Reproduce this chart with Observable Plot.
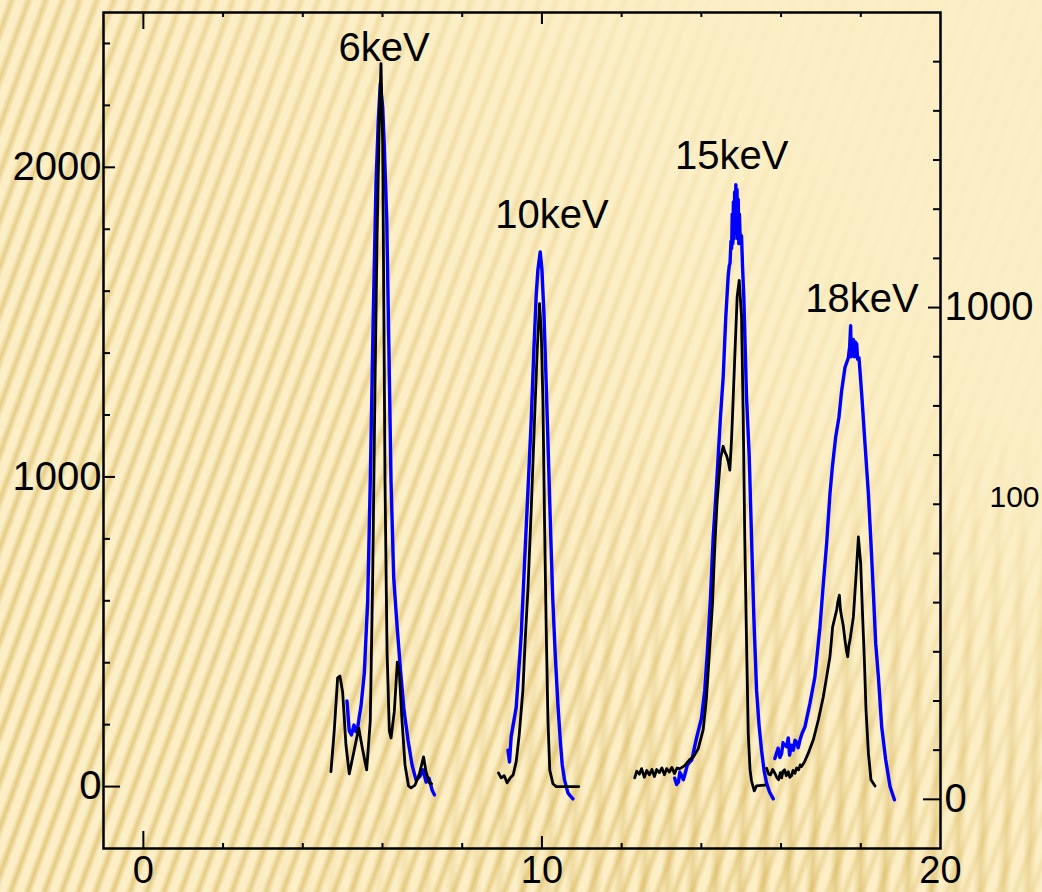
<!DOCTYPE html>
<html>
<head>
<meta charset="utf-8">
<script src="https://cdn.jsdelivr.net/npm/d3@7"></script>
<script src="https://cdn.jsdelivr.net/npm/@observablehq/plot@0.6"></script>
<style>
  html, body { margin: 0; padding: 0; }
  body { width: 1042px; height: 892px; overflow: hidden; position: relative; background: #FCEFC6; }
  #bgA { position: absolute; left: 0; top: 0; width: 1042px; height: 892px;
    background: repeating-linear-gradient(110deg, rgba(212,175,80,0) 0px, rgba(212,175,80,0) 6px, rgba(212,175,80,0.6) 11px, rgba(212,175,80,0) 16px);
    -webkit-mask-image: linear-gradient(55deg, #000 0%, rgba(0,0,0,0.8) 40%, rgba(0,0,0,0.05) 80%);
    mask-image: linear-gradient(55deg, #000 0%, rgba(0,0,0,0.8) 40%, rgba(0,0,0,0.05) 80%); }
  #bgB { position: absolute; left: 0; top: 0; width: 1042px; height: 892px;
    background: repeating-linear-gradient(93deg, rgba(212,175,80,0) 0px, rgba(212,175,80,0) 10px, rgba(212,175,80,0.55) 17px, rgba(212,175,80,0) 24px);
    -webkit-mask-image: radial-gradient(ellipse 60% 55% at 80% 100%, #000 0%, rgba(0,0,0,0.5) 50%, rgba(0,0,0,0) 100%);
    mask-image: radial-gradient(ellipse 60% 55% at 80% 100%, #000 0%, rgba(0,0,0,0.5) 50%, rgba(0,0,0,0) 100%); }
  #chart { position: absolute; left: 0; top: 0; }
</style>
</head>
<body>
<div id="bgA"></div>
<div id="bgB"></div>
<div id="chart"></div>
<script>
// ---- axes ----
const xDomain = [-1, 20];
const leftDomain = [-200, 2500];   // black spectra (left axis)
const rightDomain = [-100, 1600];  // blue spectra (right axis)

const xTickLabels = [0, 10, 20];
const xMajorTicks = [10];
const xMinorTicks = [2, 4, 6, 8, 12, 14, 16, 18];
const yLeftLabels = [0, 1000, 2000];
const yLeftMajorTicks = [1000, 2000];
const yLeftMinorTicks = [200, 400, 600, 800, 1200, 1400, 1600, 1800, 2200, 2400];
const yRightLabels = [0, 1000];
const yRightMajorTicks = [1000];
const yRightMinorTicks = [100, 200, 300, 400, 500, 600, 700, 800, 900, 1100, 1200, 1300, 1400, 1500];

// ---- peak labels ----
const peakLabels = ["6keV", "10keV", "15keV", "18keV"];
const peakLabelX = [6.04, 10.25, 14.76, 18.03];
const peakLabelY = [2385, 1847, 2036, 1575];

// ---- black spectra (left axis), [x, counts] ----
const black6keV = [[4.706,48],[4.789,180],[4.874,351],[4.932,357],[5.0,305],[5.083,135],[5.166,41],[5.291,118],[5.404,189],[5.503,118],[5.603,54],[5.693,212],[5.754,676],[5.812,1296],[5.862,1760],[5.920,2148],[5.962,2335],[6.005,2071],[6.030,1605],[6.063,986],[6.113,444],[6.171,180],[6.214,157],[6.296,242],[6.372,402],[6.422,367],[6.490,212],[6.565,70],[6.653,2],[6.716,-4],[6.817,5],[6.925,41],[7.030,96],[7.093,47],[7.176,12],[7.231,9]];
const black10keV = [[8.910,44],[8.977,28],[9.053,35],[9.128,12],[9.203,28],[9.279,38],[9.354,80],[9.430,167],[9.523,312],[9.580,473],[9.648,635],[9.731,893],[9.814,1183],[9.882,1409],[9.940,1560],[9.982,1473],[10.025,1247],[10.065,861],[10.108,506],[10.151,215],[10.196,54],[10.276,9],[10.359,0],[10.925,0]];
const black15keV = [[12.327,28],[12.38,50],[12.445,40],[12.50,58],[12.570,30],[12.63,52],[12.696,38],[12.76,55],[12.822,32],[12.88,55],[12.947,45],[13.01,60],[13.073,38],[13.13,58],[13.198,47],[13.26,62],[13.324,42],[13.39,60],[13.450,57],[13.575,67],[13.701,86],[13.802,96],[13.920,122],[14.045,183],[14.128,286],[14.211,450],[14.279,590],[14.337,775],[14.397,925],[14.480,1060],[14.548,1099],[14.593,1080],[14.631,1070],[14.681,1047],[14.714,1022],[14.756,1118],[14.781,1196],[14.839,1389],[14.899,1583],[14.950,1635],[15.008,1518],[15.050,1196],[15.090,796],[15.133,473],[15.176,173],[15.221,54],[15.259,18],[15.327,-14],[15.385,2],[15.593,5]];
const black18keV = [[15.636,59],[15.69,40],[15.736,38],[15.79,55],[15.844,43],[15.89,30],[15.937,22],[15.98,45],[16.013,28],[16.05,50],[16.088,54],[16.13,35],[16.181,48],[16.22,30],[16.264,35],[16.30,52],[16.347,43],[16.39,60],[16.440,54],[16.48,70],[16.515,65],[16.590,80],[16.683,108],[16.809,151],[16.935,215],[17.060,290],[17.143,355],[17.226,419],[17.294,516],[17.394,570],[17.43,600],[17.462,618],[17.49,570],[17.520,548],[17.56,520],[17.603,473],[17.64,440],[17.671,419],[17.70,455],[17.729,473],[17.814,548],[17.879,677],[17.940,806],[17.997,721],[18.040,570],[18.090,409],[18.131,247],[18.191,108],[18.256,22],[18.357,2]];

// ---- blue spectra (right axis), [x, counts] ----
const blue6keV = [[5.108,200],[5.166,139],[5.221,131],[5.284,151],[5.33,138],[5.377,145],[5.420,170],[5.460,189],[5.543,256],[5.628,403],[5.693,646],[5.769,987],[5.837,1251],[5.894,1378],[5.945,1456],[6.005,1407],[6.045,1328],[6.106,1182],[6.156,938],[6.214,646],[6.281,451],[6.364,354],[6.452,262],[6.540,181],[6.641,120],[6.741,70],[6.842,39],[6.942,47],[7.018,60],[7.093,35],[7.168,43],[7.244,19],[7.302,9]];
const blue10keV = [[9.148,100],[9.186,76],[9.229,128],[9.354,187],[9.480,334],[9.563,480],[9.648,626],[9.731,770],[9.799,916],[9.857,1026],[9.899,1077],[9.957,1113],[10.0,1077],[10.050,989],[10.108,843],[10.158,709],[10.209,568],[10.271,409],[10.334,294],[10.402,191],[10.460,121],[10.510,70],[10.568,39],[10.653,13],[10.711,7],[10.779,1]];
const blue15keV = [[13.332,43],[13.38,30],[13.425,35],[13.46,55],[13.500,49],[13.55,40],[13.601,55],[13.65,70],[13.709,76],[13.76,80],[13.802,96],[13.877,124],[14.003,165],[14.085,222],[14.153,303],[14.229,411],[14.296,532],[14.362,614],[14.422,697],[14.480,778],[14.548,859],[14.613,981],[14.673,1064],[14.70,1085],[14.719,1090],[14.744,1135],[14.76,1120],[14.775,1190],[14.79,1130],[14.805,1215],[14.82,1140],[14.835,1235],[14.85,1150],[14.865,1250],[14.88,1160],[14.895,1240],[14.91,1140],[14.925,1220],[14.94,1130],[14.955,1190],[14.97,1150],[15.008,1145],[15.035,1080],[15.065,1022],[15.133,819],[15.201,697],[15.259,532],[15.317,370],[15.385,222],[15.447,151],[15.510,100],[15.573,59],[15.636,33],[15.711,15],[15.804,1]];
const blue18keV = [[15.844,83],[15.925,104],[15.97,85],[16.013,93],[16.05,115],[16.088,110],[16.138,107],[16.18,125],[16.214,90],[16.26,110],[16.307,100],[16.35,120],[16.389,116],[16.43,105],[16.472,120],[16.53,135],[16.598,147],[16.724,195],[16.849,249],[16.975,350],[17.060,438],[17.143,520],[17.226,621],[17.286,675],[17.369,736],[17.452,777],[17.520,831],[17.603,878],[17.688,898],[17.72,920],[17.746,963],[17.76,900],[17.78,935],[17.80,905],[17.814,935],[17.84,900],[17.86,930],[17.897,926],[17.92,895],[17.955,898],[18.023,824],[18.106,723],[18.191,621],[18.256,520],[18.317,418],[18.374,317],[18.442,249],[18.525,147],[18.626,80],[18.734,26],[18.844,-1]];

// ---- build tables ----
const toLeft = d3.scaleLinear(rightDomain, leftDomain);
const fromLeft = d3.scaleLinear(leftDomain, rightDomain);

const blackSegs = {"6keV": black6keV, "10keV": black10keV, "15keV": black15keV, "18keV": black18keV};
const blueSegs = {"6keV": blue6keV, "10keV": blue10keV, "15keV": blue15keV, "18keV": blue18keV};
const blackRows = Object.entries(blackSegs).flatMap(([seg, pts]) => pts.map(([x, y]) => ({seg, x, y})));
const blueRows = Object.entries(blueSegs).flatMap(([seg, pts]) => pts.map(([x, y]) => ({seg, x, y: toLeft(y)})));
const peakRows = peakLabels.map((t, i) => ({t, x: peakLabelX[i], y: peakLabelY[i]}));

const W = 1042, Hh = 892, mL = 103, mR = 102, mT = 12, mB = 44;
const FW = W - mL - mR, FH = Hh - mT - mB;
const tk = {stroke: "black", strokeWidth: 2};

function xTicks(vals, len) {
  return [
    Plot.tickX(vals, {x: d => d, insetTop: FH - len, ...tk}),
    Plot.tickX(vals, {x: d => d, insetBottom: FH - len, ...tk})
  ];
}
function yLeftTicks(vals, len) {
  return Plot.tickY(vals, {y: d => d, insetRight: FW - len, ...tk});
}
function yRightTicks(vals, len) {
  return Plot.tickY(vals.map(v => toLeft(v)), {y: d => d, insetLeft: FW - len, ...tk});
}

const chart = Plot.plot({
  width: W, height: Hh,
  marginLeft: mL, marginRight: mR, marginTop: mT, marginBottom: mB,
  x: {domain: xDomain},
  y: {domain: leftDomain},
  style: {background: "transparent", fontFamily: '"Liberation Sans", Arial, sans-serif', fontSize: "40px", color: "black", overflow: "hidden"},
  marks: [
    Plot.line(blueRows, {x: "x", y: "y", z: "seg", stroke: "#0000FF", strokeWidth: 3.4, strokeLinejoin: "round"}),
    Plot.line(blackRows, {x: "x", y: "y", z: "seg", stroke: "#000000", strokeWidth: 2.8, strokeLinejoin: "round"}),
    ...xTicks([0], 17), ...xTicks(xMajorTicks, 12), ...xTicks(xMinorTicks, 5),
    yLeftTicks([0], 17), yLeftTicks(yLeftMajorTicks, 12), yLeftTicks(yLeftMinorTicks, 7),
    yRightTicks([0], 17), yRightTicks(yRightMajorTicks, 12), yRightTicks(yRightMinorTicks, 7),
    Plot.frame({stroke: "black", strokeWidth: 2.5}),
    Plot.axisX(xTickLabels, {anchor: "bottom", tickSize: 0, tickPadding: 8, fontSize: 38, label: null,
      tickFormat: d => String(d)}),
    Plot.axisY(yLeftLabels, {anchor: "left", tickSize: 0, tickPadding: 2, fontSize: 40, label: null,
      tickFormat: d => String(d)}),
    Plot.axisY(yRightLabels.map(v => toLeft(v)), {anchor: "right", tickSize: 0, tickPadding: 4, fontSize: 40, label: null,
      tickFormat: d => String(Math.round(fromLeft(d) / 100) * 100)}),
    Plot.text(peakRows, {x: "x", y: "y", text: "t", fontSize: 40, fill: "black"}),
    Plot.text([{t: "100", y: 935}], {frameAnchor: "right", y: "y", text: "t", dx: 49, textAnchor: "start", fontSize: 30, fill: "black"})
  ]
});
document.getElementById("chart").appendChild(chart);
</script>
</body>
</html>
